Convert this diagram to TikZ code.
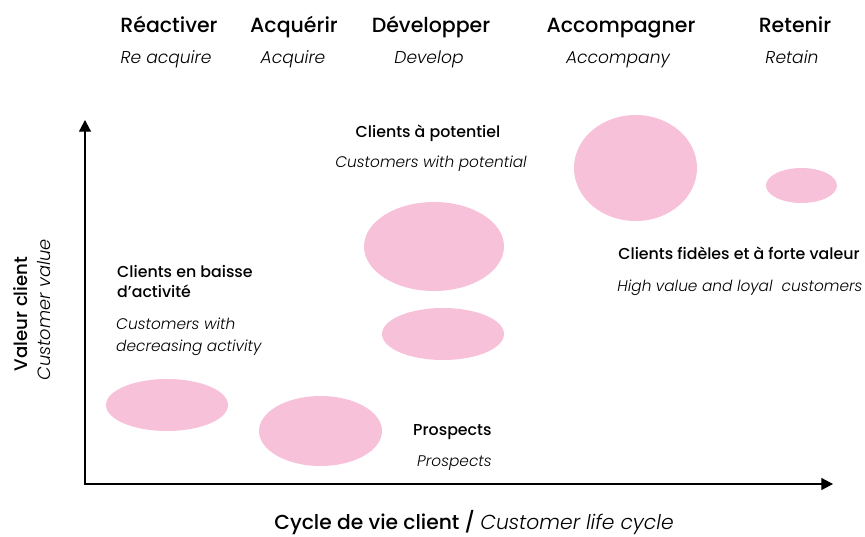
\documentclass[tikz,border=0pt]{standalone}
\usepackage{fontspec}
\setmainfont{Poppins}
\newfontfamily\poppinsmed{Poppins Medium}
\newfontfamily\poppinslight{Poppins Light}
\usetikzlibrary{arrows.meta, positioning}

\definecolor{bubblepink}{RGB}{247,193,217}

\tikzset{
    bubble/.style={fill=bubblepink},
    etape/.style={anchor=base, inner sep=0pt, font=\poppinsmed\fontsize{17.5}{20}\selectfont},
    etapeen/.style={anchor=base, inner sep=0pt, font=\poppinslight\fontsize{14.6}{17}\selectfont\itshape},
    groupe/.style={anchor=base west, inner sep=0pt, font=\poppinsmed\fontsize{13.5}{16}\selectfont},
    groupeen/.style={anchor=base west, inner sep=0pt, font=\poppinslight\fontsize{13.1}{16}\selectfont\itshape},
}

\begin{document}
\begin{tikzpicture}[x=0.3mm, y=-0.3mm, >={Triangle[length=3.5mm, width=3.6mm]}]
    \useasboundingbox (0,0) rectangle (865,537);

    % 1. Axes
    \coordinate (O) at (85,484);
    \coordinate (ytop) at (85,120);
    \coordinate (xend) at (833,484);
    \draw[<->, line width=1pt] (ytop) -- (O) -- (xend);

    % 2. Etapes du cycle
    \foreach \xa/\xb/\nom/\fr/\en in {169/166/reac/Réactiver/Re acquire,
        294/293/acq/Acquérir/Acquire, 431/429/dev/Développer/Develop,
        621/618/acc/Accompagner/Accompany, 795/792/ret/Retenir/Retain} {
        \node[etape] (\nom) at (\xa,32) {\fr};
        \node[etapeen] (\nom-en) at (\xb,63) {\en};
    }

    % 3. Bulles
    \fill[bubble] (167,405) ellipse [x radius=61, y radius=26];
    \fill[bubble] (320.5,431) ellipse [x radius=61.5, y radius=35];
    \fill[bubble] (434,246.5) ellipse [x radius=70, y radius=44.5];
    \fill[bubble] (443,334) ellipse [x radius=61, y radius=26];
    \fill[bubble] (635.5,168) ellipse [x radius=61.5, y radius=53];
    \fill[bubble] (801.5,185.5) ellipse [x radius=35.5, y radius=17.5];

    % 4. Groupes de clients
    \node[groupe, anchor=base] (pot) at (428,137) {Clients à potentiel};
    \node[groupeen, anchor=base] (pot-en) at (431,167) {Customers with potential};
    \node[groupe, anchor=base] (fid) at (739,259) {Clients fidèles et à forte valeur};
    \node[groupeen, anchor=base] (fid-en) at (740,291) {High value and loyal~ customers};
    \node[groupe] (baisse) at (117,277) {Clients en baisse};
    \node[groupe] (baisse2) at (117,297) {d’activité};
    \node[groupeen] (baisse-en) at (116,329) {Customers with};
    \node[groupeen] (baisse-en2) at (116,351) {decreasing activity};
    \node[groupe] (pros) at (413,435) {Prospects};
    \node[groupeen] (pros-en) at (417,466) {Prospects};

    % 5. Titres des axes
    \node[rotate=90, anchor=base, inner sep=0pt, font=\poppinsmed\fontsize{15.5}{18}\selectfont]
        (valeur) at (27,314) {Valeur client};
    \node[rotate=90, anchor=base, inner sep=0pt, font=\poppinslight\fontsize{15.2}{18}\selectfont\itshape]
        (valeur-en) at (51,310) {Customer value};
    \node[anchor=base, inner sep=0pt, font=\poppinsmed\fontsize{17.3}{20}\selectfont]
        (cycle) at (474,529) {Cycle de vie client / {\poppinslight\fontsize{17.3}{20}\selectfont\itshape Customer life cycle}};
\end{tikzpicture}
\end{document}
